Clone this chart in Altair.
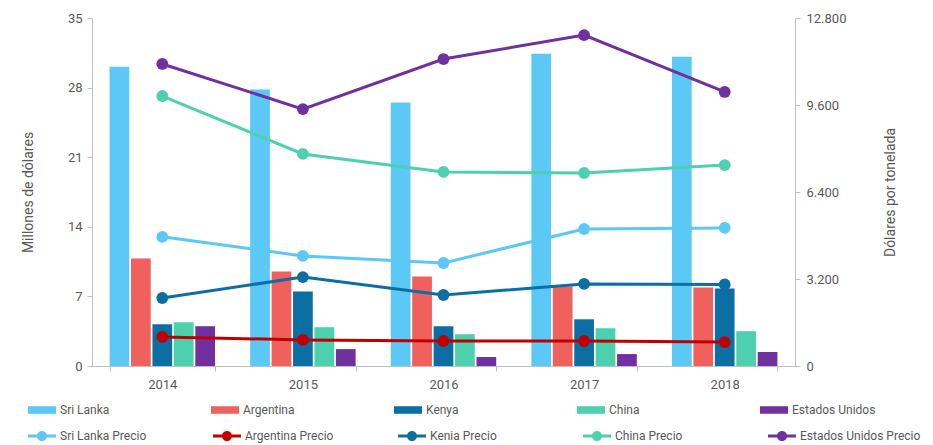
import altair as alt
import pandas as pd

years = ["2014", "2015", "2016", "2017", "2018"]

bar_series = ["Sri Lanka", "Argentina", "Kenya", "China", "Estados Unidos"]
bar_colors = ["#5BC8F5", "#F0605D", "#0B6FA4", "#4DD0AE", "#7030A0"]
sri_lanka = [30.1, 27.8, 26.5, 31.4, 31.1]
argentina = [10.8, 9.5, 9.0, 8.0, 7.9]
kenya = [4.2, 7.5, 4.0, 4.7, 7.8]
china = [4.4, 3.9, 3.2, 3.8, 3.5]
eeuu = [4.0, 1.7, 0.9, 1.2, 1.4]

line_series = ["Sri Lanka Precio", "Argentina Precio", "Kenia Precio",
               "China Precio", "Estados Unidos Precio"]
line_colors = ["#5BC8F5", "#C00000", "#0B6FA4", "#4DD0AE", "#7030A0"]
sri_lanka_precio = [4750, 4050, 3790, 5040, 5080]
argentina_precio = [1070, 960, 920, 920, 880]
kenia_precio = [2500, 3270, 2610, 3020, 3000]
china_precio = [9930, 7800, 7140, 7100, 7390]
eeuu_precio = [11110, 9450, 11290, 12170, 10080]

left_ticks = [0, 7, 14, 21, 28, 35]
right_ticks = [0, 3200, 6400, 9600, 12800]

bar_values = [sri_lanka, argentina, kenya, china, eeuu]
line_values = [sri_lanka_precio, argentina_precio, kenia_precio, china_precio, eeuu_precio]

bars_df = pd.DataFrame([
    {"year": y, "pais": s, "valor": v[i]}
    for s, v in zip(bar_series, bar_values) for i, y in enumerate(years)
])
lines_df = pd.DataFrame([
    {"year": y, "serie": s, "precio": v[i]}
    for s, v in zip(line_series, line_values) for i, y in enumerate(years)
])

text_color = "#595959"
axis_color = "#BFBFBF"

x_enc = alt.X(
    "year:N",
    scale=alt.Scale(paddingInner=0.25, paddingOuter=0.125),
    axis=alt.Axis(title=None, labelAngle=0, tickBand="extent", tickSize=5,
                  labelPadding=7, domainColor=axis_color, tickColor=axis_color,
                  labelColor=text_color, labelFontSize=13, grid=False),
)

rect_path = "M-1,-0.27L1,-0.27L1,0.27L-1,0.27Z"
line_path = ("M-1,-0.1L1,-0.1L1,0.1L-1,0.1Z"
             "M0.36,0A0.36,0.36,0,1,1,-0.36,0A0.36,0.36,0,1,1,0.36,0Z")

bars = alt.Chart(bars_df).mark_bar().encode(
    x=x_enc,
    xOffset=alt.XOffset("pais:N", sort=bar_series,
                        scale=alt.Scale(domain=bar_series, paddingInner=0.08)),
    y=alt.Y("valor:Q",
            scale=alt.Scale(domain=[0, 35], nice=False),
            axis=alt.Axis(title="Millones de dólares", values=left_ticks,
                          grid=False, tickSize=5, labelPadding=5,
                          titlePadding=32, titleFontSize=14,
                          titleFontWeight="normal", titleColor=text_color,
                          labelColor=text_color, labelFontSize=13,
                          domainColor=axis_color, tickColor=axis_color)),
    color=alt.Color("pais:N",
                    scale=alt.Scale(domain=bar_series, range=bar_colors),
                    legend=alt.Legend(title=None, orient="none", legendX=-64,
                                      legendY=378, direction="horizontal",
                                      columns=5, gridAlign="all",
                                      columnPadding=67, padding=0,
                                      symbolType=rect_path, symbolSize=784,
                                      symbolStrokeWidth=0, labelOffset=4,
                                      labelFontSize=12, labelColor=text_color)),
)

y2_enc = alt.Y("precio:Q",
               scale=alt.Scale(domain=[0, 12800], nice=False),
               axis=alt.Axis(orient="right", title="Dólares por tonelada",
                             values=right_ticks, grid=False, tickSize=5,
                             labelPadding=6, titlePadding=52, titleAngle=270,
                             titleFontSize=14, titleFontWeight="normal",
                             titleColor=text_color, labelColor=text_color,
                             labelFontSize=13, domainColor=axis_color,
                             tickColor=axis_color,
                             labelExpr="replace(format(datum.value, ',.0f'), ',', '.')"))

line_color_scale = alt.Scale(domain=line_series, range=line_colors)

line_legend = alt.Legend(title=None, orient="none", legendX=-64,
                         legendY=404, direction="horizontal",
                         columns=5, gridAlign="all",
                         columnPadding=32, padding=0,
                         symbolType=line_path, symbolSize=784,
                         symbolStrokeWidth=0, labelOffset=4,
                         labelFontSize=12, labelColor=text_color)

lines = alt.Chart(lines_df).mark_line(strokeWidth=3).encode(
    x=x_enc,
    y=y2_enc,
    color=alt.Color("serie:N", scale=line_color_scale, legend=line_legend),
    detail="serie:N",
)

points = alt.Chart(lines_df).mark_point(filled=True, size=140, opacity=1).encode(
    x=x_enc,
    y=y2_enc,
    color=alt.Color("serie:N", scale=line_color_scale, legend=line_legend),
)

chart = alt.layer(bars, alt.layer(lines, points)).resolve_scale(
    y="independent", color="independent"
).properties(
    width=703,
    height=348,
    padding={"left": 84, "top": 10, "right": 130, "bottom": 78},
    autosize=alt.AutoSizeParams(type="none"),
).configure(font="Roboto").configure_view(stroke=None)

chart.save("out.html", embed_options={"renderer": "svg", "actions": False})
